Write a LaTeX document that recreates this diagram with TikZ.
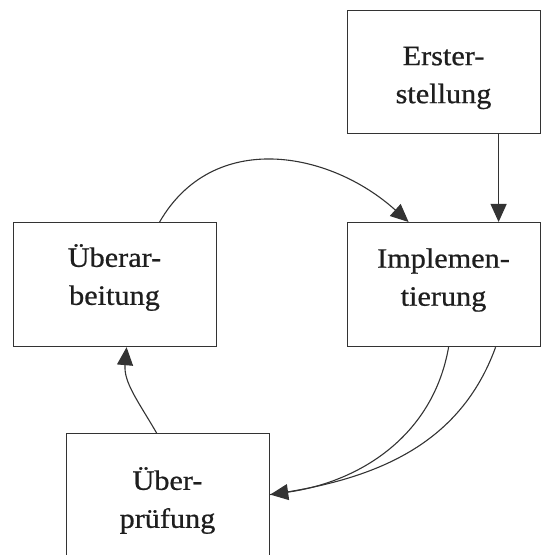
\documentclass[tikz,border=0pt]{standalone}
\usepackage{fontspec}
\setmainfont{Liberation Serif}[FakeStretch=1.08,FakeBold=0.7]
\usetikzlibrary{arrows.meta}
\definecolor{ink}{HTML}{333333}
\definecolor{txt}{HTML}{1E1E1E}
\tikzset{
  box/.style={draw=ink, line width=1.2pt, rectangle, anchor=north west, inner sep=0pt},
  lbl/.style={text=txt, align=center, inner sep=0pt,
    font=\fontsize{28}{38}\selectfont},
  flow/.style={draw=ink, line width=1.1pt,
    -{Triangle[length=18pt,width=16pt]}},
  plain/.style={draw=ink, line width=1.1pt}
}
\begin{document}
\begin{tikzpicture}[x=1pt,y=1pt]
\useasboundingbox (0,0) rectangle (542,555);
\clip (0,0) rectangle (542,555);

% process boxes
\node[box, minimum width=193pt, minimum height=123pt] (erst) at (347,545) {};
\node[box, minimum width=193pt, minimum height=124pt] (impl) at (347,333) {};
\node[box, minimum width=203pt, minimum height=124pt] (ueba) at (13,333) {};
\node[box, minimum width=203pt, minimum height=140pt] (uebp) at (66,122) {};

% box labels
\node[lbl] (erstT) at (443.5,477) {Erster-\\stellung};
\node[lbl] (implT) at (443.5,275) {Implemen-\\tierung};
\node[lbl] (uebaT) at (114.5,277.5) {Überar-\\beitung};
\node[lbl] (uebpT) at (167.5,54.5) {Über-\\prüfung};

% connectors
\draw[flow] ([xshift=54.5pt]erst.south) -- ([xshift=54.5pt]impl.north);
\draw[flow] ([xshift=44.5pt]ueba.north) to[out=60,in=138,looseness=1.1] ([xshift=-35.5pt]impl.north);
\draw[flow] ([xshift=-11.5pt]uebp.north) to[out=120,in=-95] ([xshift=11.5pt]ueba.south);
\draw[plain] ([xshift=51.5pt]impl.south) to[out=-110,in=8] ([yshift=9pt]uebp.east);
\draw[flow] ([xshift=4.5pt]impl.south) to[out=-100,in=8] ([yshift=9pt]uebp.east);
\end{tikzpicture}
\end{document}
